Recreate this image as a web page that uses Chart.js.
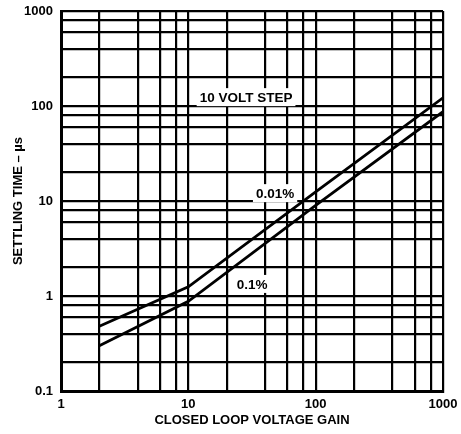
<!DOCTYPE html>
<html>
<head>
<meta charset="utf-8">
<script src="https://cdn.jsdelivr.net/npm/chart.js@4"></script>
<style>
html,body{margin:0;padding:0;background:#fff;}
#wrap{width:461px;height:434px;}
</style>
</head>
<body>
<div id="wrap"><canvas id="c" width="461" height="434"></canvas></div>
<script>
// Data
const gainX = [2, 10, 100, 1000];
const settle001 = [0.48, 1.25, 12.5, 122];   // 0.01 %
const settle01  = [0.30, 0.88, 9.0, 87];     // 0.1 %

const xGrid = [1,2,4,6,8,10,20,40,60,80,100,200,400,600,800,1000];
const yGrid = [0.1,0.2,0.4,0.6,0.8,1,2,4,6,8,10,20,40,60,80,100,200,400,600,800,1000];
const xLabels = [1,10,100,1000];
const yLabels = [0.1,1,10,100,1000];

const noteText = ['10 VOLT STEP', '0.01%', '0.1%'];
const noteX = [28.4, 48, 31.7];
const noteY = [124, 12.1, 1.34];

const FONT = "'Liberation Sans', Arial, Helvetica, sans-serif";

const notesPlugin = {
  id: 'notes',
  afterDatasetsDraw(chart) {
    const {ctx, scales} = chart;
    ctx.save();
    ctx.font = 'bold 13.5px ' + FONT;
    ctx.textAlign = 'center';
    ctx.textBaseline = 'middle';
    noteText.forEach((t, i) => {
      const px = scales.x.getPixelForValue(noteX[i]);
      const py = scales.y.getPixelForValue(noteY[i]);
      const w = ctx.measureText(t).width;
      ctx.fillStyle = '#fff';
      ctx.fillRect(px - w/2 - 3, py - 9, w + 6, 18);
      ctx.fillStyle = '#000';
      ctx.fillText(t, px, py + 1);
    });
    ctx.restore();
  }
};

const fmt = v => {
  if (v >= 1) return String(Math.round(v));
  return String(v);
};

new Chart(document.getElementById('c'), {
  type: 'scatter',
  data: {
    datasets: [
      { label: '0.01%', data: gainX.map((x,i)=>({x, y: settle001[i]})), showLine: true,
        borderColor: '#000', borderWidth: 2.8, pointRadius: 0, tension: 0 },
      { label: '0.1%', data: gainX.map((x,i)=>({x, y: settle01[i]})), showLine: true,
        borderColor: '#000', borderWidth: 2.8, pointRadius: 0, tension: 0 }
    ]
  },
  options: {
    responsive: false,
    animation: false,
    devicePixelRatio: 1,
    layout: { padding: { top: 11, right: 18, left: 0, bottom: 0 } },
    plugins: { legend: { display: false }, tooltip: { enabled: false } },
    scales: {
      x: {
        type: 'logarithmic', min: 1, max: 1000,
        afterBuildTicks: s => { s.ticks = xGrid.map(v => ({value: v})); },
        afterFit: s => { s.height = 43; s.paddingLeft = 0; s.paddingRight = 0; },
        grid: { color: '#000', lineWidth: 2.2, drawTicks: false },
        border: { color: '#000', width: 3 },
        ticks: {
          autoSkip: false, maxRotation: 0, padding: 6, color: '#000',
          font: { family: FONT, size: 13, weight: 'bold' },
          callback: v => xLabels.includes(v) ? fmt(v) : ''
        },
        title: { display: true, text: 'CLOSED LOOP VOLTAGE GAIN', color: '#000',
          font: { family: FONT, size: 13, weight: 'bold' }, padding: { top: 0, bottom: 6 } }
      },
      y: {
        type: 'logarithmic', min: 0.1, max: 1000,
        afterBuildTicks: s => { s.ticks = yGrid.map(v => ({value: v})); },
        afterFit: s => { s.width = 61; s.paddingTop = 0; s.paddingBottom = 0; },
        grid: { color: '#000', lineWidth: 2.2, drawTicks: false },
        border: { color: '#000', width: 3 },
        ticks: {
          autoSkip: false, padding: 8, color: '#000',
          font: { family: FONT, size: 13, weight: 'bold' },
          callback: v => yLabels.includes(v) ? fmt(v) : ''
        },
        title: { display: true, text: 'SETTLING TIME – µs', color: '#000',
          font: { family: FONT, size: 13, weight: 'bold' }, padding: { top: 11, bottom: 0 } }
      }
    }
  },
  plugins: [notesPlugin]
});
</script>
</body>
</html>
